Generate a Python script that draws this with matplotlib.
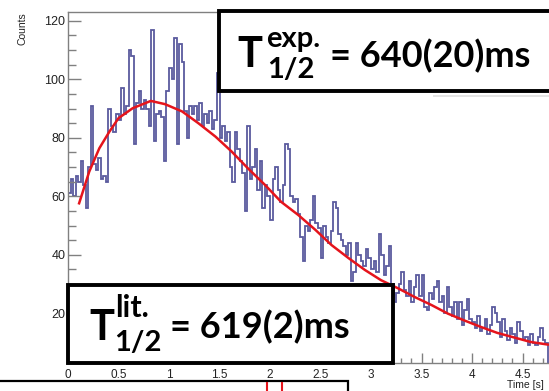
import numpy as np
import matplotlib.pyplot as plt
from matplotlib import ticker
from matplotlib.patches import Rectangle

W, H = 549, 391

# decay-time histogram, 25 ms bins starting at t = 0
bin_width = 0.025
counts = [
    61, 66, 60, 67, 65, 72, 64, 56, 70, 91,
    71, 69, 73, 66, 67, 65, 90, 84, 82, 88,
    86, 97, 88, 91, 110, 108, 78, 92, 96, 90,
    93, 90, 84, 117, 79, 88, 89, 87, 72, 96,
    104, 100, 114, 78, 112, 106, 89, 80, 91, 88,
    91, 86, 92, 84, 88, 85, 89, 83, 86, 102,
    80, 84, 79, 82, 70, 65, 82, 76, 72, 68,
    55, 84, 66, 70, 76, 62, 72, 56, 64, 60,
    52, 66, 70, 62, 58, 64, 78, 76, 60, 58,
    59, 54, 46, 38, 50, 48, 52, 60, 51, 49,
    39, 50, 46, 44, 48, 58, 56, 47, 45, 43,
    40, 44, 31, 34, 44, 40, 38, 36, 42, 39,
    35, 38, 34, 47, 40, 33, 36, 43, 30, 24,
    27, 30, 34, 28, 26, 31, 24, 29, 33, 26,
    33, 22, 21, 27, 25, 29, 31, 24, 26, 20,
    29, 22, 19, 24, 18, 24, 16, 21, 25, 18,
    17, 15, 19, 14, 15, 18, 13, 16, 22, 20,
    17, 12, 18, 14, 11, 15, 13, 10, 17, 14,
    11, 12, 9, 13, 10, 9, 12, 15, 11, 10,
]

# fitted curve
fit_t = [0.11, 0.21, 0.31, 0.41, 0.50, 0.64, 0.82, 0.96, 1.13, 1.29, 1.46,
         1.62, 1.78, 1.95, 2.11, 2.28, 2.45, 2.61, 2.78, 2.94, 3.10, 3.27,
         3.43, 3.60, 3.76, 3.92, 4.09, 4.25, 4.42, 4.58, 4.75]
fit_y = [57.6, 68.4, 76.4, 82.1, 86.7, 90.1, 92.6, 91.5, 89.0, 85.0, 80.4,
         75.3, 69.6, 63.9, 58.1, 53.6, 48.5, 43.3, 38.8, 34.8, 31.3, 28.5,
         25.6, 22.8, 19.9, 17.6, 15.3, 13.3, 11.7, 10.2, 9.3]

xticks = [0, 0.5, 1, 1.5, 2, 2.5, 3, 3.5, 4, 4.5, 5]
yticks = [20, 40, 60, 80, 100, 120]


def fx(x):
    return x / W


def fy(y):
    return 1 - y / H


fig = plt.figure(figsize=(W / 100, H / 100), dpi=100)
ax = fig.add_axes([fx(68), fy(363), (573 - 68) / W, (363 - 12) / H])

edges = np.arange(len(counts) + 1) * bin_width
ax.stairs(counts, edges, baseline=0, color='#5a5a9e', lw=1.3)
ax.plot(fit_t, fit_y, color='#e5141c', lw=1.8)

ax.set_xlim(0, 5)
ax.set_ylim(3, 123)
ax.set_xticks(xticks)
ax.set_yticks(yticks)
ax.xaxis.set_major_formatter(ticker.FormatStrFormatter('%g'))
ax.xaxis.set_minor_locator(ticker.MultipleLocator(0.1))
ax.yaxis.set_minor_locator(ticker.MultipleLocator(5))

ax.tick_params(which='both', direction='in', color='#808080', width=1,
               labelcolor='#222222', labelfontfamily='Liberation Sans')
ax.tick_params(axis='y', which='major', length=9.5, labelsize=9, pad=2)
ax.tick_params(axis='y', which='minor', length=5.5)
ax.tick_params(axis='x', which='major', length=7, labelsize=8.5, pad=4)
ax.tick_params(axis='x', which='minor', length=3.6)
ax.tick_params(top=False, right=False)
for s in ax.spines.values():
    s.set_color('#808080')
    s.set_linewidth(1)

fig.text(fx(23), fy(12), 'Counts', rotation=90, ha='center', va='top',
         fontsize=7.5, family='Liberation Sans', color='#222222')
fig.text(fx(507), fy(390), 'Time [s]', ha='left', va='bottom',
         fontsize=7.5, family='Liberation Sans', color='#222222')

# half-life boxes
box_font = dict(family='Lato', weight='bold', color='black')
fig.patches.append(Rectangle((fx(219), fy(91)), (580 - 219) / W, 80 / H,
                             transform=fig.transFigure, fc='white', ec='black',
                             lw=2.8))
fig.patches.append(Rectangle((fx(433), fy(97)), (549 - 433) / W, 2 / H,
                             transform=fig.transFigure, fc='#e4e4e4', ec='none'))
fig.text(fx(237), fy(67), 'T', fontsize=30, **box_font)
fig.text(fx(266), fy(47), 'exp.', fontsize=21, **box_font)
fig.text(fx(267), fy(78), '1/2', fontsize=21, **box_font)
fig.text(fx(330), fy(67), '= 640(20)ms', fontsize=26, **box_font)

fig.patches.append(Rectangle((fx(68), fy(363)), (393 - 68) / W, 78 / H,
                             transform=fig.transFigure, fc='white', ec='black',
                             lw=2.8))
fig.text(fx(89), fy(340), 'T', fontsize=30, **box_font)
fig.text(fx(115), fy(317), 'lit.', fontsize=22, **box_font)
fig.text(fx(114), fy(351), '1/2', fontsize=21, **box_font)
fig.text(fx(170), fy(338), '= 619(2)ms', fontsize=26, **box_font)

# next panel peeking in at the bottom
fig.patches.append(Rectangle((fx(-10), fy(400)), (348 + 10) / W, 19 / H,
                             transform=fig.transFigure, fc='none', ec='black',
                             lw=1.6))
for xr in [267, 282]:
    fig.add_artist(plt.Line2D([fx(xr), fx(xr)], [fy(383), fy(392)],
                              transform=fig.transFigure, color='#e5141c', lw=1.5))

fig.savefig('out.png', dpi=100)
